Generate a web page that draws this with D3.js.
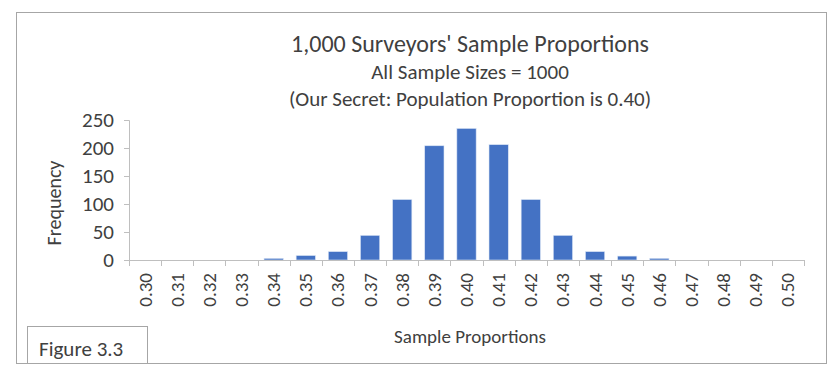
<!DOCTYPE html>
<html><head><meta charset="utf-8">
<script src="https://cdn.jsdelivr.net/npm/d3@7"></script>
<style>body{margin:0;background:#fff}svg{display:block}text{font-family:Carlito,Calibri,"Open Sans",sans-serif;fill:#404040}</style>
</head><body><svg id="c" width="839" height="380"></svg>
<script>
const categories = ["0.30","0.31","0.32","0.33","0.34","0.35","0.36","0.37","0.38","0.39","0.40","0.41","0.42","0.43","0.44","0.45","0.46","0.47","0.48","0.49","0.50"];
const frequencies = [0,0,0,0,3,8,15,44,108,204,235,206,108,44,15,7,3,0,0,0,0];
const yTicks = [0,50,100,150,200,250];
const titleLines = ["1,000 Surveyors' Sample Proportions","All Sample Sizes = 1000","(Our Secret: Population Proportion is 0.40)"];

const svg = d3.select("#c");
svg.append("rect").attr("width",839).attr("height",380).attr("fill","#fff");
svg.append("rect").attr("x",16.5).attr("y",12.5).attr("width",810).attr("height",351)
  .attr("fill","none").attr("stroke","#a6a6a6");

const L=129, R=804, T=120, B=260;
const x = d3.scaleBand().domain(categories).range([L,R]).paddingInner(0.4).paddingOuter(0.2);
const y = d3.scaleLinear().domain([0,250]).range([B,T]);

// bars
svg.append("g").selectAll("rect").data(frequencies).join("rect")
  .attr("x",(d,i)=>x(categories[i])).attr("width",x.bandwidth())
  .attr("y",d=>y(d)).attr("height",d=>B-y(d))
  .attr("fill","#4472c4").attr("stroke","#dce6f5").attr("stroke-width",0.6);

// y axis
const ya = svg.append("g").attr("transform",`translate(${L},0)`)
  .call(d3.axisLeft(y).tickValues(yTicks).tickSize(5).tickPadding(10));
ya.select(".domain").attr("stroke","#bfbfbf").attr("d",`M-5,${T+0.5}H0.5V${B}`);
ya.selectAll(".tick line").attr("stroke","#bfbfbf");
ya.selectAll(".tick text").style("font-size","21px").attr("fill","#404040");

// x axis with boundary ticks
const xa = svg.append("g").attr("transform",`translate(0,${B})`);
xa.append("line").attr("x1",L).attr("x2",R).attr("y1",0.5).attr("y2",0.5).attr("stroke","#bfbfbf");
const bounds = d3.range(categories.length+1).map(i=>L + i*(R-L)/categories.length);
xa.selectAll("line.b").data(bounds).join("line").attr("class","b")
  .attr("x1",d=>Math.round(d)+0.5).attr("x2",d=>Math.round(d)+0.5).attr("y1",0).attr("y2",6).attr("stroke","#bfbfbf");
xa.selectAll("text").data(categories).join("text")
  .attr("transform",d=>`translate(${x(d)+x.bandwidth()/2+6.5},13) rotate(-90)`)
  .attr("text-anchor","end").style("font-size","19px").text(d=>d);

// titles
const tsz=[24,21,21], ty=[52,79,106];
titleLines.forEach((t,i)=>svg.append("text").attr("x",470).attr("y",ty[i]).attr("text-anchor","middle")
  .style("font-size",tsz[i]+"px").attr("fill","#000").text(t));

// axis titles
svg.append("text").attr("transform","translate(61,203) rotate(-90)").attr("text-anchor","middle")
  .style("font-size","20px").attr("fill","#000").text("Frequency");
svg.append("text").attr("x",470).attr("y",343).attr("text-anchor","middle")
  .style("font-size","19px").attr("fill","#404040").text("Sample Proportions");

// figure label box
svg.append("rect").attr("x",27.5).attr("y",326.5).attr("width",120).attr("height",37)
  .attr("fill","#fff").attr("stroke","#a6a6a6");
svg.append("text").attr("x",39).attr("y",356).style("font-size","21px").attr("fill","#000").text("Figure 3.3");
</script></body></html>
